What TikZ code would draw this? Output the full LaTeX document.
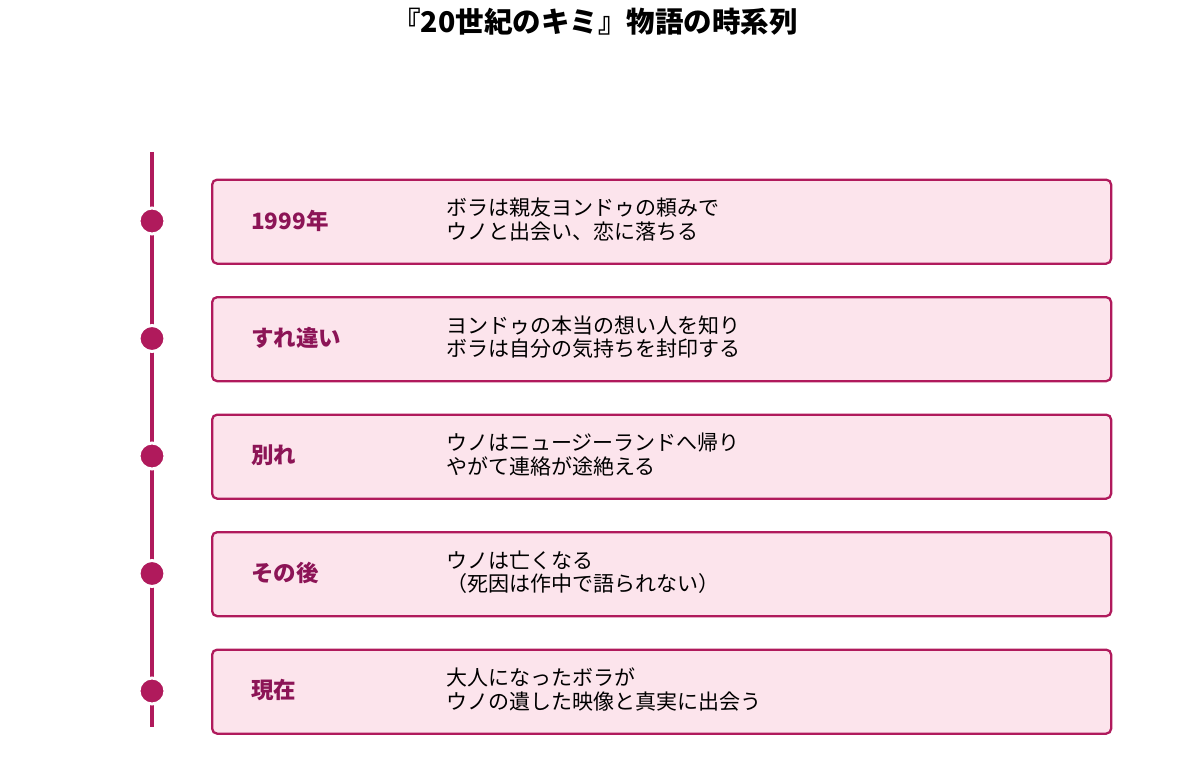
\documentclass[tikz,border=0pt]{standalone}
\usepackage{fontspec}
\setmainfont{Noto Sans CJK JP}
\definecolor{lineC}{HTML}{B01A5C}
\definecolor{fillC}{HTML}{FCE4EC}
\definecolor{labC}{HTML}{8C1456}
\tikzset{
  evbox/.style={draw=lineC, fill=fillC, line width=2.3pt, rounded corners=5pt, minimum width=899pt, minimum height=84pt, anchor=north west, inner sep=0pt},
  evlab/.style={anchor=west, text=labC, font=\fontsize{22.5}{26}\selectfont\bfseries, inner sep=0pt},
  evdesc/.style={anchor=west, align=left, font=\fontsize{21}{23.5}\selectfont, inner sep=0pt},
  evdot/.style={circle, fill=lineC, draw=white, line width=3pt, minimum size=26pt, inner sep=0pt},
}
\begin{document}
\begin{tikzpicture}[x=1pt,y=-1pt]
\useasboundingbox (0,0) rectangle (1183,765);
\node[font=\fontsize{28.5}{31}\selectfont\bfseries] (title) at (595,22) {『20世紀のキミ』物語の時系列};
\coordinate (top) at (152,152);
\coordinate (bot) at (152,727);
\draw[lineC, line width=4.5pt] (top) -- (bot);
\foreach \i/\y/\lab/\da/\db in {
  1/178.5/1999年/ボラは親友ヨンドゥの頼みで/ウノと出会い、恋に落ちる,
  2/296/すれ違い/ヨンドゥの本当の想い人を知り/ボラは自分の気持ちを封印する,
  3/413.5/別れ/ウノはニュージーランドへ帰り/やがて連絡が途絶える,
  4/531/その後/ウノは亡くなる/（死因は作中で語られない）,
  5/648.5/現在/大人になったボラが/ウノの遺した映像と真実に出会う} {
  \node[evbox] (box\i) at (211,\y) {};
  \node[evdot] (dot\i) at (152,\y+42.5) {};
  \node[evlab] (lab\i) at (251,\y+42) {\lab};
  \node[evdesc] (desc\i) at (446,\y+41) {\da\\\db};
}
\end{tikzpicture}
\end{document}
